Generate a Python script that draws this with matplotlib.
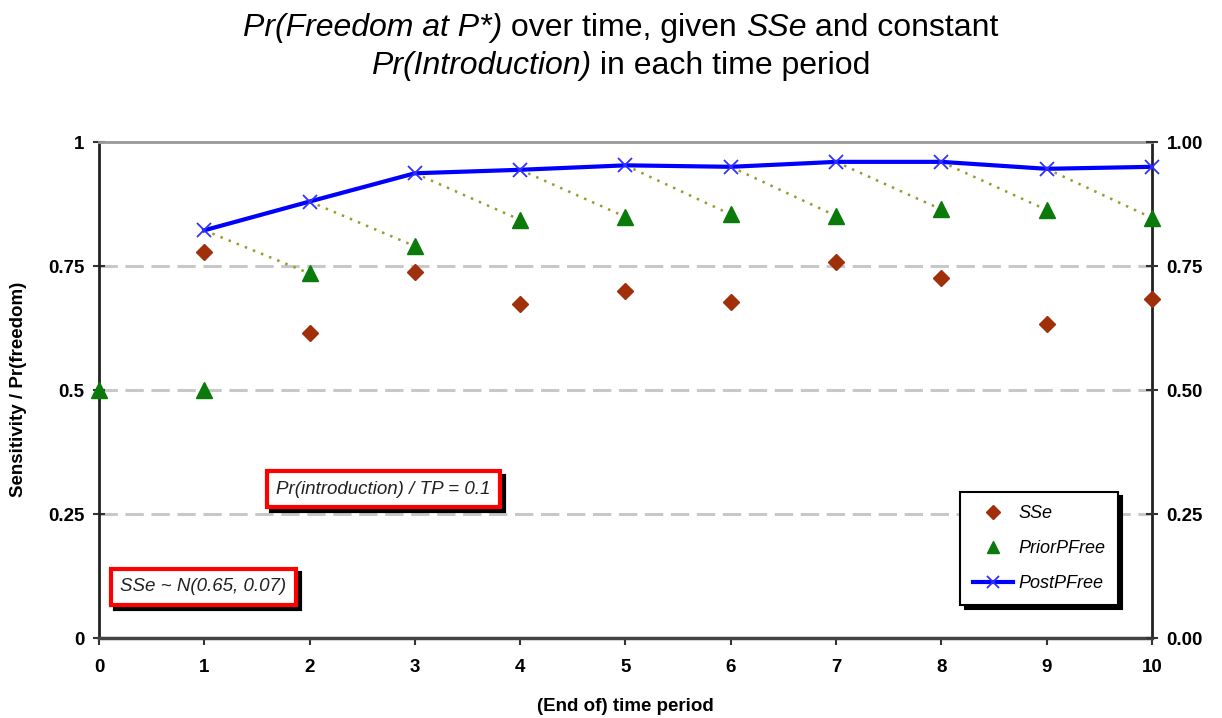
import matplotlib
matplotlib.use("Agg")
import matplotlib.pyplot as plt
from matplotlib.patches import Shadow

plt.rcParams['font.family'] = ['Liberation Sans', 'DejaVu Sans']

# --- data ---
periods = list(range(0, 11))
sse_t = [1, 2, 3, 4, 5, 6, 7, 8, 9, 10]
sse = [0.779, 0.614, 0.738, 0.673, 0.699, 0.678, 0.759, 0.726, 0.634, 0.684]
prior_t = [0, 1, 2, 3, 4, 5, 6, 7, 8, 9, 10]
prior = [0.50, 0.50, 0.735, 0.790, 0.843, 0.849, 0.854, 0.851, 0.864, 0.863, 0.847]
post_t = [1, 2, 3, 4, 5, 6, 7, 8, 9, 10]
post = [0.822, 0.880, 0.937, 0.944, 0.953, 0.950, 0.960, 0.960, 0.946, 0.950]
left_ticks = [0, 0.25, 0.5, 0.75, 1]
left_labels = ["0", "0.25", "0.5", "0.75", "1"]
right_labels = ["0.00", "0.25", "0.50", "0.75", "1.00"]

fig = plt.figure(figsize=(12.22, 7.18), dpi=100)
ax = fig.add_axes([0.081, 0.1114, 0.8617, 0.6908])
ax.set_xlim(0, 10)
ax.set_ylim(0, 1)

# dashed gridlines
for v in [0.25, 0.5, 0.75]:
    ax.axhline(v, color='#c8c8c8', lw=2.2, ls=(0, (6, 2.5)), zorder=0)

# dotted links from each posterior to the next period's prior
for i, t in enumerate(post_t):
    if t + 1 in prior_t:
        j = prior_t.index(t + 1)
        ax.plot([t, t + 1], [post[i], prior[j]], color='#9a9a30', lw=1.8,
                ls=(0, (1, 2.5)), zorder=2)

ax.plot(sse_t, sse, ls='none', marker='D', color='#a0300a', ms=8,
        label='SSe', zorder=4, clip_on=False)
ax.plot(prior_t, prior, ls='none', marker='^', color='#0a7a0a', ms=11,
        label='PriorPFree', zorder=4, clip_on=False)
ax.plot(post_t, post, color='#0000ff', lw=3, marker='x', ms=10, mew=1.3,
        mec='#3030ff', label='PostPFree', zorder=5, clip_on=False)

# spines
ax.spines['top'].set_color('#999999')
ax.spines['top'].set_linewidth(2)
for s in ['left', 'right']:
    ax.spines[s].set_color('#222222')
    ax.spines[s].set_linewidth(2)
ax.spines['bottom'].set_color('#444444')
ax.spines['bottom'].set_linewidth(2.5)

ax.set_xticks(periods)
ax.set_xticklabels([str(p) for p in periods], fontsize=13.5, fontweight='bold')
ax.tick_params(axis='x', direction='out', length=5, width=1.5, color='#333333', pad=10)
ax.set_yticks(left_ticks)
ax.set_yticklabels(left_labels, fontsize=13.5, fontweight='bold')
ax.tick_params(axis='y', direction='inout', length=9, width=1.5, color='#333333', pad=6)

ax2 = ax.twinx()
ax2.set_ylim(0, 1)
ax2.set_yticks(left_ticks)
ax2.set_yticklabels(right_labels, fontsize=13.5, fontweight='bold')
ax2.tick_params(axis='y', direction='inout', length=9, width=1.5, color='#333333', pad=6)
for s in ax2.spines.values():
    s.set_visible(False)

ax.set_xlabel("(End of) time period", fontsize=13.5, fontweight='bold', labelpad=16)
fig.text(0.015, 0.458, "Sensitivity / Pr(freedom)", rotation=90, ha='center',
         va='center', fontsize=13.5, fontweight='bold')

# annotation boxes (red frame, black drop shadow added after layout)
boxed = []
for x, y, s in [(2.70, 0.30, "Pr(introduction) / TP = 0.1"),
                (0.99, 0.103, "SSe ~ N(0.65, 0.07)")]:
    t = ax.text(x, y, s, color='#222222', fontsize=13.5, style='italic',
                ha='center', va='center', zorder=7,
                bbox=dict(boxstyle='square,pad=0.5', fc='white', ec='#ff0000', lw=3))
    boxed.append(t)

leg = ax.legend(loc='upper left', bbox_to_anchor=(0.818, 0.294), fancybox=False,
                frameon=True, edgecolor='black', prop={'style': 'italic', 'size': 13},
                shadow={'color': 'black', 'alpha': 1, 'ox': 3, 'oy': -3},
                handlelength=2.2, borderpad=0.7, labelspacing=1.0, handletextpad=0.3,
                borderaxespad=0, markerscale=0.85)
leg.get_frame().set_linewidth(1.5)
leg.set_zorder(10)

# two-line title mixing italic and upright runs
def rich_line(y, pieces, size=23):
    renderer = fig.canvas.get_renderer()
    texts = []
    for s, style in pieces:
        t = fig.text(0, y, s, fontsize=size, style=style, ha='left', va='center')
        texts.append(t)
    widths = [t.get_window_extent(renderer).width for t in texts]
    total = sum(widths)
    x = fig.bbox.width * 0.508 - total / 2
    for t, w in zip(texts, widths):
        t.set_x(x / fig.bbox.width)
        x += w

rich_line(1 - 28 / 718, [("Pr(Freedom at P*)", 'italic'), (" over time, given ", 'normal'),
                         ("SSe", 'italic'), (" and constant", 'normal')])
rich_line(1 - 66 / 718, [("Pr(Introduction)", 'italic'), (" in each time period", 'normal')])

# lay out once so the text frames have their final size, then add shadows
fig.canvas.draw()
for t in boxed:
    frame = t.get_bbox_patch()
    sh = Shadow(frame, 3, -3, color='black', alpha=1)
    sh.set_zorder(6)
    ax.add_artist(sh)

fig.savefig("out.png", dpi=100)
